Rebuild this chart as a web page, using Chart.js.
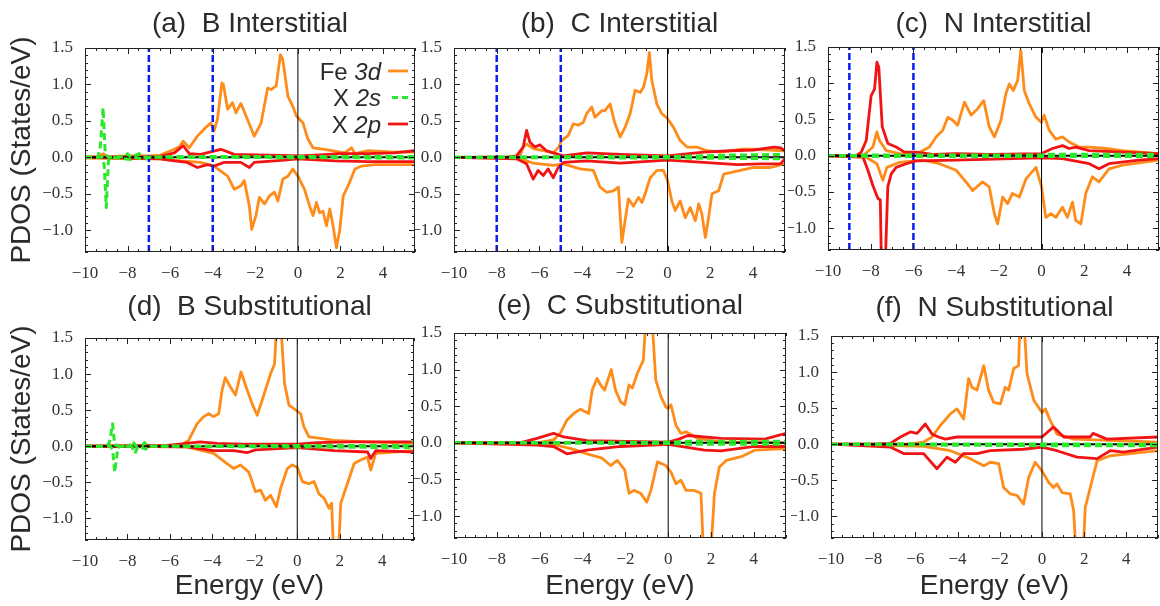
<!DOCTYPE html>
<html lang="en">
<head>
<meta charset="UTF-8">
<title>PDOS of X in Fe</title>
<script src="https://cdn.jsdelivr.net/npm/chart.js"></script>
<style>
  body { margin: 0; background: #fff; width: 1160px; height: 606px; position: relative; overflow: hidden; }
  canvas { position: absolute; }
</style>
</head>
<body>
<script>
// ---- axes / labels ----
const energyTicks = [-10, -8, -6, -4, -2, 0, 2, 4];
const pdosTicks = [-1.0, -0.5, 0.0, 0.5, 1.0, 1.5];
const panelTitles = ['(a)  B Interstitial', '(b)  C Interstitial', '(c)  N Interstitial',
                     '(d)  B Substitutional', '(e)  C Substitutional', '(f)  N Substitutional'];
const xAxisTitle = 'Energy (eV)';
const yAxisTitle = 'PDOS (States/eV)';
const legendRows = [['Fe ', '3d', 'fe'], ['X ', '2s', 's'], ['X ', '2p', 'p']];

// blue dashed boundaries (eV), interstitial panels
const boundA = [-7, -4];
const boundB = [-8, -5];
const boundC = [-9, -6];

// reference lines
const zeroH = [[-10, 0], [5.5, 0]];
const zeroV = [[0, -1.3], [0, 1.5]];

// ---- (a) B interstitial ----
const feUpA = [[-10,0.01],[-9.4,0.01],[-9.13,0.05],[-9.0,0.01],[-8,0.02],[-7,0.02],[-6.46,0.03],[-5.8,0.11],[-5.55,0.15],[-5.39,0.22],[-5.1,0.13],[-4.72,0.29],[-4.33,0.41],[-4.09,0.47],[-3.94,0.36],[-3.78,0.52],[-3.57,1.02],[-3.5,1.0],[-3.3,0.66],[-3.07,0.75],[-2.91,0.61],[-2.68,0.74],[-2.44,0.57],[-2.05,0.29],[-1.73,0.47],[-1.42,0.95],[-1.26,0.93],[-1.02,0.98],[-0.82,1.41],[-0.71,1.34],[-0.47,0.84],[-0.24,0.70],[-0.08,0.57],[0.24,0.47],[0.47,0.25],[0.71,0.13],[1.26,0.11],[2.2,0.06],[2.52,0.13],[2.68,0.05],[3.3,0.09],[4.5,0.07],[5.5,0.07]];
const feDnA = [[-10,-0.01],[-6.46,-0.02],[-5.5,-0.05],[-4.57,-0.07],[-3.94,-0.12],[-3.3,-0.26],[-2.99,-0.44],[-2.68,-0.39],[-2.52,-0.32],[-2.28,-0.67],[-2.17,-0.99],[-1.97,-0.80],[-1.81,-0.55],[-1.57,-0.64],[-1.34,-0.53],[-1.1,-0.48],[-0.94,-0.60],[-0.71,-0.30],[-0.47,-0.26],[-0.24,-0.16],[0,-0.26],[0.31,-0.44],[0.55,-0.67],[0.71,-0.80],[0.87,-0.62],[1.02,-0.76],[1.18,-0.74],[1.34,-0.94],[1.5,-0.71],[1.65,-0.94],[1.81,-1.24],[1.97,-0.99],[2.13,-0.53],[2.36,-0.39],[2.68,-0.16],[2.99,-0.12],[3.62,-0.10],[5.5,-0.10]];
const sUpA = [[-10,0],[-9.4,0],[-9.28,0.15],[-9.15,0.68],[-9.05,0.05],[-8.9,0],[-8.1,0.01],[-8.0,0.05],[-7.85,0],[-7.45,0.05],[-7.3,0],[-5.5,0.01],[5.5,0.01]];
const sDnA = [[-10,0],[-9.2,0],[-9.1,-0.1],[-9.0,-0.69],[-8.9,-0.05],[-8.8,0],[-7.85,-0.03],[-7.7,0],[-7.2,-0.03],[-7.0,0],[5.5,-0.01]];
const pUpA = [[-10,0],[-6.5,0.01],[-5.8,0.06],[-5.39,0.16],[-5.1,0.05],[-4.57,0.04],[-3.62,0.11],[-2.99,0.04],[-1.42,0.03],[0.16,0.02],[1.42,0.04],[1.9,0.05],[3.3,0.05],[4.5,0.06],[5.5,0.09]];
const pDnA = [[-10,0],[-6.46,-0.02],[-5.8,-0.05],[-5.2,-0.07],[-4.72,-0.14],[-4.25,-0.10],[-3.94,-0.12],[-3.46,-0.07],[-2.68,-0.07],[-2.28,-0.14],[-2.05,-0.07],[-0.63,-0.04],[0,-0.02],[1.73,-0.05],[3.3,-0.06],[5.5,-0.06]];

// ---- (b) C interstitial ----
const feUpB = [[-10,0],[-7.2,0.01],[-6.9,0.03],[-6.76,0.14],[-6.6,0.18],[-6.29,0.12],[-5.82,0.09],[-5.35,0.06],[-5.1,0.14],[-4.96,0.23],[-4.65,0.30],[-4.41,0.46],[-4.18,0.44],[-3.94,0.48],[-3.79,0.60],[-3.55,0.69],[-3.4,0.55],[-3.08,0.64],[-2.93,0.64],[-2.69,0.73],[-2.46,0.46],[-2.22,0.28],[-1.99,0.41],[-1.75,0.60],[-1.52,0.92],[-1.28,0.89],[-1.13,0.96],[-0.97,1.15],[-0.85,1.44],[-0.74,1.06],[-0.5,0.73],[-0.27,0.60],[0,0.53],[0.28,0.41],[0.59,0.23],[0.91,0.14],[1.38,0.14],[1.85,0.09],[2.47,0.07],[3.41,0.11],[4.04,0.11],[5.5,0.09]];
const feDnB = [[-10,0],[-7.2,-0.01],[-6.9,-0.02],[-6.6,-0.05],[-6.29,-0.08],[-5.35,-0.11],[-4.88,-0.09],[-4.1,-0.16],[-3.47,-0.18],[-3.16,-0.41],[-2.85,-0.48],[-2.54,-0.46],[-2.3,-0.41],[-2.14,-1.17],[-1.99,-0.87],[-1.83,-0.57],[-1.6,-0.67],[-1.36,-0.55],[-1.2,-0.62],[-1.05,-0.50],[-0.81,-0.28],[-0.5,-0.18],[-0.19,-0.18],[0,-0.32],[0.2,-0.60],[0.36,-0.73],[0.59,-0.60],[0.83,-0.83],[1.06,-0.69],[1.3,-0.87],[1.46,-0.64],[1.61,-0.78],[1.77,-1.10],[1.92,-0.83],[2.08,-0.50],[2.39,-0.46],[2.63,-0.23],[3.1,-0.20],[4.04,-0.14],[4.82,-0.14],[5.5,-0.09]];
const sUpB = [[-10,0],[-7,0.005],[-4,0.01],[0,0.01],[3,0.03],[5.5,0.04]];
const sDnB = [[-10,0],[-7,-0.005],[0,-0.01],[5.5,-0.02]];
const pUpB = [[-10,0],[-7.54,0],[-7.07,0.02],[-6.76,0.14],[-6.6,0.37],[-6.45,0.21],[-6.21,0.14],[-5.98,0.17],[-5.67,0.09],[-5.35,0.06],[-4.88,0.02],[-3.79,0.06],[-2.22,0.04],[0,0.02],[1.69,0.07],[2.94,0.09],[4.04,0.10],[4.98,0.14],[5.3,0.13],[5.5,0.09]];
const pDnB = [[-10,0],[-7.07,-0.02],[-6.6,-0.09],[-6.29,-0.30],[-6.06,-0.18],[-5.82,-0.25],[-5.59,-0.16],[-5.35,-0.28],[-5.12,-0.14],[-4.88,-0.07],[-3.79,-0.05],[-2.22,-0.08],[0,-0.04],[1.69,-0.07],[3.26,-0.10],[4.35,-0.09],[5.29,-0.09],[5.5,-0.02]];

// ---- (c) N interstitial ----
const feUpC = [[-10,0],[-8.36,0],[-7.9,0.12],[-7.71,0.33],[-7.59,0.21],[-7.27,0.07],[-6.65,0.03],[-5.87,0.02],[-5.25,0.12],[-4.94,0.26],[-4.63,0.35],[-4.39,0.53],[-4.16,0.49],[-3.93,0.42],[-3.61,0.74],[-3.3,0.56],[-2.99,0.65],[-2.71,0.76],[-2.45,0.40],[-2.21,0.26],[-1.9,0.49],[-1.67,0.86],[-1.51,0.99],[-1.32,0.90],[-1.12,1.04],[-0.97,1.45],[-0.81,0.90],[-0.58,0.72],[-0.26,0.53],[0,0.46],[0.12,0.56],[0.36,0.35],[0.67,0.23],[0.98,0.26],[1.29,0.19],[1.76,0.12],[2.23,0.12],[3.01,0.10],[3.79,0.07],[5.5,0.03]];
const feDnC = [[-10,0],[-8.21,-0.02],[-7.71,-0.11],[-7.43,-0.34],[-7.24,-0.16],[-6.65,-0.09],[-5.56,-0.06],[-4.78,-0.11],[-4.0,-0.20],[-3.54,-0.36],[-3.22,-0.48],[-2.76,-0.36],[-2.45,-0.43],[-2.21,-0.80],[-2.06,-0.94],[-1.82,-0.57],[-1.59,-0.66],[-1.36,-0.52],[-1.04,-0.57],[-0.73,-0.32],[-0.26,-0.16],[0,-0.43],[0.2,-0.85],[0.44,-0.80],[0.67,-0.85],[0.98,-0.71],[1.21,-0.85],[1.45,-0.64],[1.6,-0.89],[1.84,-0.94],[2.07,-0.52],[2.38,-0.29],[2.69,-0.36],[3.16,-0.18],[3.79,-0.13],[5.5,-0.06]];
const sUpC = [[-10,0],[-8,0.01],[0,0.01],[0.2,0.02],[5.5,0.02]];
const sDnC = [[-10,0],[-8,-0.01],[0,-0.01],[5.5,-0.01]];
const pUpC = [[-10,0],[-8.68,0],[-8.44,0.05],[-8.21,0.21],[-7.98,0.83],[-7.82,0.92],[-7.71,1.29],[-7.62,1.22],[-7.46,0.40],[-7.2,0.17],[-6.81,0.12],[-6.42,0.05],[-5.87,0.05],[-5.09,0.02],[-4.0,0.03],[-2.45,0.02],[0,0.03],[0.51,0.10],[0.98,0.14],[1.29,0.10],[1.6,0.12],[2.23,0.07],[3.79,0.05],[5.5,0.03]];
const pDnC = [[-10,0],[-8.36,-0.02],[-8.13,-0.20],[-7.9,-0.41],[-7.66,-0.59],[-7.55,-0.61],[-7.5,-1.5],[-7.32,-1.5],[-7.2,-0.43],[-7.04,-0.25],[-6.81,-0.16],[-6.34,-0.11],[-5.87,-0.07],[-4.0,-0.06],[0,-0.03],[0.98,-0.04],[2.23,-0.11],[2.69,-0.18],[3.16,-0.11],[4.56,-0.06],[5.5,-0.04]];

// ---- (d) B substitutional ----
const feUpD = [[-10,0],[-6,0.01],[-5.51,0.01],[-5.12,0.08],[-4.72,0.31],[-4.41,0.41],[-4.17,0.45],[-3.94,0.41],[-3.7,0.45],[-3.54,0.78],[-3.39,0.95],[-3.15,0.82],[-2.91,0.71],[-2.65,1.03],[-2.36,0.78],[-2.13,0.59],[-1.89,0.43],[-1.65,0.64],[-1.5,0.78],[-1.26,1.0],[-1.07,1.14],[-0.95,1.8],[-0.8,1.8],[-0.6,0.87],[-0.39,0.57],[-0.16,0.52],[0.16,0.45],[0.31,0.27],[0.55,0.13],[1.1,0.11],[1.73,0.08],[3.31,0.06],[5.5,0.04]];
const feDnD = [[-10,0],[-5.2,-0.01],[-3.94,-0.10],[-3.31,-0.24],[-2.99,-0.31],[-2.68,-0.26],[-2.28,-0.36],[-1.97,-0.63],[-1.73,-0.61],[-1.5,-0.75],[-1.26,-0.68],[-0.98,-0.84],[-0.79,-0.59],[-0.47,-0.31],[-0.24,-0.26],[0,-0.29],[0.24,-0.49],[0.55,-0.52],[0.79,-0.49],[1.02,-0.66],[1.26,-0.72],[1.5,-0.86],[1.62,-0.79],[1.73,-1.6],[1.92,-1.6],[2.05,-0.79],[2.36,-0.52],[2.68,-0.24],[2.99,-0.19],[3.31,-0.15],[3.46,-0.33],[3.7,-0.10],[5.5,-0.06]];
const sUpD = [[-10,0],[-9.0,0],[-8.85,0.05],[-8.7,0.31],[-8.6,0.02],[-8.4,0],[-7.9,0],[-7.75,0.07],[-7.6,0],[-7.3,0.01],[-7.2,0.05],[-7.05,0],[0,0.01],[5.3,0.01],[5.5,0.08]];
const sDnD = [[-10,0],[-8.8,0],[-8.7,-0.05],[-8.6,-0.36],[-8.45,-0.02],[-8.3,0],[-7.8,0],[-7.65,-0.10],[-7.5,0],[-7.15,-0.04],[-7.0,0],[0,-0.01],[5.5,-0.02]];
const pUpD = [[-10,0],[-6.14,0.01],[-5.2,0.04],[-4.57,0.06],[-3.78,0.04],[-2.68,0.03],[0,0.03],[0.94,0.05],[2.52,0.06],[5.5,0.06]];
const pDnD = [[-10,0],[-5.2,-0.01],[-3.94,-0.06],[-2.99,-0.06],[-2.36,-0.09],[-1.97,-0.05],[0,-0.02],[1.73,-0.06],[3.31,-0.08],[3.46,-0.17],[3.7,-0.06],[5.5,-0.08]];

// ---- (e) C substitutional ----
const feUpE = [[-10,0],[-6.13,0],[-5.35,0.04],[-5.04,0.13],[-4.73,0.31],[-4.41,0.40],[-4.1,0.46],[-3.71,0.40],[-3.55,0.72],[-3.32,0.88],[-3.16,0.79],[-2.97,0.72],[-2.66,1.0],[-2.46,0.72],[-2.22,0.56],[-2.03,0.52],[-1.83,0.79],[-1.67,0.75],[-1.44,0.95],[-1.16,1.13],[-1.02,1.8],[-0.78,1.8],[-0.58,0.86],[-0.34,0.63],[-0.11,0.49],[0,0.47],[0.13,0.52],[0.36,0.24],[0.59,0.13],[0.83,0.15],[1.38,0.06],[2.47,0.01],[5.5,0]];
const feDnE = [[-10,0],[-5.35,-0.02],[-4.41,-0.09],[-3.79,-0.15],[-3.08,-0.21],[-2.69,-0.31],[-2.38,-0.24],[-2.03,-0.37],[-1.83,-0.69],[-1.6,-0.65],[-1.28,-0.69],[-1.0,-0.81],[-0.81,-0.65],[-0.5,-0.26],[-0.11,-0.31],[0.13,-0.40],[0.36,-0.56],[0.59,-0.51],[0.83,-0.65],[1.22,-0.65],[1.53,-0.69],[1.66,-1.6],[1.97,-1.6],[2.16,-0.69],[2.39,-0.33],[2.71,-0.24],[3.41,-0.19],[4.04,-0.10],[5.5,-0.08]];
const sUpE = [[-10,0],[-6,0.005],[0,0.01],[1,0.02],[5.5,0.02]];
const sDnE = [[-10,0],[-6,-0.005],[0,-0.01],[1,-0.02],[5.5,-0.02]];
const pUpE = [[-10,0],[-6.92,0],[-6.13,0.06],[-5.35,0.13],[-4.88,0.08],[-3.79,0.03],[0,0.01],[0.5,0.05],[0.91,0.10],[2.47,0.06],[4.5,0.05],[5.5,0.13]];
const pDnE = [[-10,0],[-6.13,-0.03],[-5.35,-0.05],[-4.73,-0.15],[-3.79,-0.10],[-2.22,-0.05],[0,-0.02],[0.59,-0.05],[1.69,-0.10],[2.47,-0.11],[4.04,-0.05],[5.5,-0.05]];

// ---- (f) N substitutional ----
const feUpF = [[-10,0],[-6.4,0],[-5.61,0.03],[-5.21,0.10],[-4.82,0.26],[-4.34,0.42],[-4.03,0.49],[-3.71,0.35],[-3.48,0.91],[-3.32,0.79],[-3.08,0.75],[-2.76,1.09],[-2.53,0.75],[-2.29,0.58],[-1.97,0.56],[-1.74,0.79],[-1.58,0.75],[-1.34,1.05],[-1.11,1.09],[-1.03,1.8],[-0.87,1.8],[-0.71,0.98],[-0.39,0.61],[0,0.44],[0.16,0.49],[0.39,0.33],[0.71,0.14],[1.5,0.07],[5.5,0.03]];
const feDnF = [[-10,0],[-5.61,-0.03],[-4.34,-0.09],[-3.4,-0.20],[-2.76,-0.30],[-2.45,-0.25],[-2.05,-0.27],[-1.82,-0.60],[-1.5,-0.69],[-1.18,-0.71],[-0.87,-0.83],[-0.63,-0.46],[-0.32,-0.25],[0,-0.37],[0.32,-0.53],[0.55,-0.60],[0.71,-0.55],[0.95,-0.67],[1.34,-0.69],[1.5,-0.92],[1.63,-1.6],[1.94,-1.6],[2.05,-0.88],[2.29,-0.60],[2.61,-0.23],[3.24,-0.16],[3.87,-0.14],[5.5,-0.09]];
const sUpF = [[-10,0],[-7,0.005],[5.5,0.0]];
const sDnF = [[-10,0],[-7,-0.01],[0,-0.02],[5.5,-0.02]];
const pUpF = [[-10,0],[-7.98,0],[-7.19,0.01],[-6.71,0.10],[-6.24,0.17],[-5.92,0.15],[-5.53,0.28],[-5.21,0.14],[-4.9,0.10],[-4.58,0.07],[-4.03,0.10],[-2.45,0.10],[-0.87,0.10],[0,0.10],[0.55,0.24],[1.03,0.10],[2.29,0.10],[2.42,0.15],[3.08,0.07],[5.5,0.10]];
const pDnF = [[-10,0],[-7.19,-0.04],[-6.56,-0.13],[-5.61,-0.13],[-4.98,-0.34],[-4.5,-0.18],[-4.11,-0.25],[-3.71,-0.13],[-3.08,-0.13],[-2.45,-0.09],[-0.87,-0.07],[0,-0.04],[0.71,-0.09],[1.66,-0.18],[2.61,-0.20],[3.24,-0.09],[3.87,-0.11],[5.5,-0.04]];

// ---- styles ----
const SANS = 'Liberation Sans, Arial, Helvetica, sans-serif';
const SERIF = 'Liberation Serif, Times New Roman, Times, serif';
const TEXT_COLOR = '#2b2b2b';
const seriesStyle = {
  fe: { color: '#ff8c1a', width: 2.8, dash: [] },
  s:  { color: '#2ae82a', width: 3, dash: [7, 4] },
  p:  { color: '#f01414', width: 2.8, dash: [] }
};

Chart.defaults.font.family = SERIF;
Chart.defaults.font.size = 17;
Chart.defaults.color = '#333';

// plot rectangles (px) and canvas boxes
const panels = [
  { title: panelTitles[0], fe: [feUpA, feDnA], s: [sUpA, sDnA], p: [pUpA, pDnA], bound: boundA,
    L: 85, R: 415, T: 48, B: 252, left: 0, right: 420, top: 0, bottom: 282, titleMid: 22.5, yT: true, xT: false, legend: true },
  { title: panelTitles[1], fe: [feUpB, feDnB], s: [sUpB, sDnB], p: [pUpB, pDnB], bound: boundB,
    L: 454, R: 785, T: 48, B: 252, left: 414, right: 790, top: 0, bottom: 282, titleMid: 22.8 },
  { title: panelTitles[2], fe: [feUpC, feDnC], s: [sUpC, sDnC], p: [pUpC, pDnC], bound: boundC,
    L: 828, R: 1159, T: 47, B: 250, left: 788, right: 1160, top: 0, bottom: 282, titleMid: 22.8 },
  { title: panelTitles[3], fe: [feUpD, feDnD], s: [sUpD, sDnD], p: [pUpD, pDnD], bound: [],
    L: 85, R: 414, T: 338, B: 540, left: 0, right: 419, top: 285, bottom: 606, titleMid: 306.3, yT: true, xT: true },
  { title: panelTitles[4], fe: [feUpE, feDnE], s: [sUpE, sDnE], p: [pUpE, pDnE], bound: [],
    L: 454, R: 786, T: 333, B: 538, left: 414, right: 791, top: 285, bottom: 606, titleMid: 305, xT: true },
  { title: panelTitles[5], fe: [feUpF, feDnF], s: [sUpF, sDnF], p: [pUpF, pDnF], bound: [],
    L: 831, R: 1158, T: 336, B: 538, left: 791, right: 1160, top: 285, bottom: 606, titleMid: 306.7, xT: true }
];

const toXY = arr => arr.map(([x, y]) => ({ x, y }));
const fmtMinus = s => s.replace('-', '\u2212');

// frame with inward ticks on all four sides
const framePlugin = {
  id: 'frame',
  afterDatasetsDraw(chart) {
    const { ctx, chartArea: { left, right, top, bottom }, scales: { x, y } } = chart;
    ctx.save();
    ctx.strokeStyle = '#222';
    ctx.lineWidth = 1;
    ctx.setLineDash([]);
    ctx.strokeRect(left + 0.5, top + 0.5, right - left - 1, bottom - top - 1);
    ctx.beginPath();
    for (let i = -20; i <= 11; i++) {
      const px = Math.round(x.getPixelForValue(i / 2)) + 0.5;
      const len = i % 4 === 0 ? 6 : 3;
      ctx.moveTo(px, bottom); ctx.lineTo(px, bottom - len);
      ctx.moveTo(px, top); ctx.lineTo(px, top + len);
    }
    for (let i = -13; i <= 15; i++) {
      const py = Math.round(y.getPixelForValue(i / 10)) + 0.5;
      const len = i % 5 === 0 ? 6 : 3;
      ctx.moveTo(left, py); ctx.lineTo(left + len, py);
      ctx.moveTo(right, py); ctx.lineTo(right - len, py);
    }
    ctx.stroke();
    ctx.restore();
  }
};

const legendPlugin = {
  id: 'pdosLegend',
  afterDatasetsDraw(chart) {
    const { ctx, chartArea: ca } = chart;
    ctx.save();
    legendRows.forEach((row, i) => {
      const st = seriesStyle[row[2]];
      const cy = ca.top + 23 + i * 26.5;
      const lineR = ca.right - 7, lineL = lineR - 20;
      ctx.strokeStyle = st.color;
      ctx.lineWidth = st.width;
      ctx.setLineDash(st.dash.length ? [6, 4] : []);
      ctx.beginPath();
      ctx.moveTo(st.dash.length ? lineL + 4 : lineL, cy);
      ctx.lineTo(lineR, cy);
      ctx.stroke();
      ctx.fillStyle = TEXT_COLOR;
      ctx.textAlign = 'right';
      ctx.textBaseline = 'alphabetic';
      let tx = lineL - 7;
      ctx.font = 'italic 24px ' + SANS;
      ctx.fillText(row[1], tx, cy + 8.5);
      tx -= ctx.measureText(row[1]).width;
      ctx.font = '24px ' + SANS;
      ctx.fillText(row[0], tx, cy + 8.5);
    });
    ctx.restore();
  }
};

function lineSet(data, st) {
  return {
    data: toXY(data),
    borderColor: st.color,
    borderWidth: st.width,
    borderDash: st.dash,
    borderJoinStyle: 'round',
    pointRadius: 0,
    tension: 0,
    fill: false,
    clip: 0
  };
}

panels.forEach(p => {
  const cvs = document.createElement('canvas');
  const w = p.right - p.left, h = p.bottom - p.top;
  cvs.width = w; cvs.height = h;
  cvs.style.left = p.left + 'px';
  cvs.style.top = p.top + 'px';
  cvs.style.width = w + 'px';
  cvs.style.height = h + 'px';
  document.body.appendChild(cvs);

  const yw = p.L - p.left, xh = p.bottom - p.B, rp = p.right - p.R;
  const padTop = p.titleMid + 1.3 - p.top - 16.8;
  const padBottom = p.T - p.top - 33.6 - padTop;

  const datasets = [
    lineSet(p.s[0], seriesStyle.s),
    lineSet(p.s[1], seriesStyle.s),
    lineSet(zeroH, { color: '#000', width: 2, dash: [] }),
    lineSet(zeroV, { color: '#000', width: 1, dash: [] })
  ];
  p.bound.forEach(e => datasets.push(lineSet([[e, -1.3], [e, 1.5]], { color: '#0a1ef0', width: 2.5, dash: [7, 3] })));
  datasets.push(lineSet(p.p[0], seriesStyle.p), lineSet(p.p[1], seriesStyle.p),
                lineSet(p.fe[0], seriesStyle.fe), lineSet(p.fe[1], seriesStyle.fe));

  const plugins = [framePlugin];
  if (p.legend) plugins.push(legendPlugin);

  const tickFont = { family: SERIF, size: 17, weight: 'normal' };
  const bigFont = { family: SANS, size: 28, weight: 'normal', lineHeight: 1.2 };

  new Chart(cvs.getContext('2d'), {
    type: 'line',
    data: { datasets },
    plugins,
    options: {
      responsive: false,
      devicePixelRatio: 1,
      animation: false,
      events: [],
      layout: { padding: { left: 0, right: rp, top: 0, bottom: 0 } },
      plugins: {
        legend: { display: false },
        tooltip: { enabled: false },
        title: {
          display: true,
          text: p.title,
          fullSize: false,
          color: TEXT_COLOR,
          font: bigFont,
          padding: { top: padTop, bottom: padBottom }
        }
      },
      scales: {
        x: {
          type: 'linear',
          min: -10, max: 5.5,
          grid: { display: false },
          border: { display: false },
          afterBuildTicks: s => { s.ticks = energyTicks.map(v => ({ value: v })); },
          afterFit: s => { s.height = xh; },
          ticks: {
            autoSkip: false, maxRotation: 0, padding: 3,
            color: '#333',
            font: tickFont,
            callback: v => fmtMinus(String(v))
          },
          title: {
            display: !!p.xT, text: xAxisTitle, color: TEXT_COLOR,
            font: bigFont,
            padding: { top: 0, bottom: 3.4 }
          }
        },
        y: {
          type: 'linear',
          min: -1.3, max: 1.5,
          grid: { display: false },
          border: { display: false },
          afterBuildTicks: s => { s.ticks = pdosTicks.map(v => ({ value: v })); },
          afterFit: s => { s.width = yw; },
          ticks: {
            autoSkip: false, padding: 4,
            color: '#333',
            font: tickFont,
            callback: v => fmtMinus(Number(v).toFixed(1))
          },
          title: {
            display: !!p.yT, text: yAxisTitle, color: TEXT_COLOR,
            font: bigFont,
            padding: { top: 5.2, bottom: 0 }
          }
        }
      }
    }
  });
});
</script>
</body>
</html>
